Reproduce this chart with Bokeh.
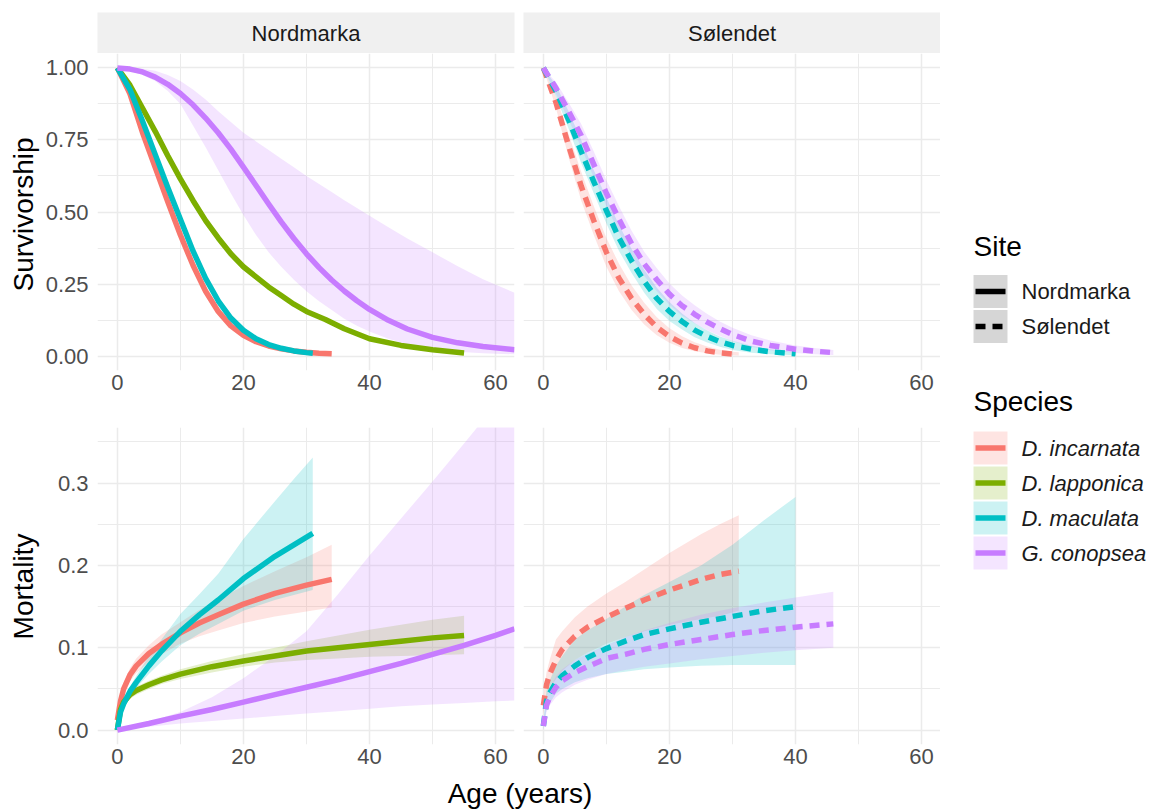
import math
from bokeh.plotting import figure
from bokeh.layouts import row, column
from bokeh.models import Range1d, FixedTicker, Grid, NumeralTickFormatter
from bokeh.embed import file_html
from bokeh.resources import INLINE
from bokeh.core.properties import value

# ---------------- data ----------------
sites = ["Nordmarka", "Sølendet"]
species = ["D. incarnata", "D. lapponica", "D. maculata", "G. conopsea"]
species_colors = ["#F8766D", "#7CAE00", "#00BFC4", "#C77CFF"]
site_dash = ["solid", "10 7"]
row_titles = ["Survivorship", "Mortality"]
x_title = "Age (years)"

x_ticks = [0, 20, 40, 60]
x_minor = [10, 30, 50]
surv_ticks = [0, 0.25, 0.5, 0.75, 1.0]
surv_minor = [0.125, 0.375, 0.625, 0.875]
mort_ticks = [0, 0.1, 0.2, 0.3]
mort_minor = [0.05, 0.15, 0.25, 0.35]

# Survivorship - Nordmarka
sN_inc_age = [0, 2, 4, 6, 8, 10, 12, 14, 16, 18, 20, 22, 24, 26, 28, 30, 32, 34]
sN_inc_mean = [1.0, 0.91, 0.775, 0.655, 0.535, 0.42, 0.315, 0.225, 0.155, 0.105, 0.072, 0.05, 0.035, 0.025, 0.018, 0.013, 0.01, 0.008]
sN_inc_lo = [1.0, 0.9, 0.755, 0.635, 0.515, 0.4, 0.297, 0.209, 0.141, 0.093, 0.062, 0.042, 0.028, 0.019, 0.013, 0.009, 0.006, 0.005]
sN_inc_hi = [1.0, 0.92, 0.795, 0.675, 0.555, 0.44, 0.333, 0.241, 0.169, 0.117, 0.082, 0.058, 0.042, 0.031, 0.023, 0.017, 0.014, 0.011]

sN_lap_age = [0, 2, 4, 6, 8, 10, 12, 14, 16, 18, 20, 22, 24, 26, 28, 30, 33, 36, 40, 45, 50, 55]
sN_lap_mean = [1.0, 0.94, 0.86, 0.78, 0.695, 0.615, 0.54, 0.47, 0.41, 0.355, 0.31, 0.275, 0.24, 0.21, 0.18, 0.155, 0.127, 0.095, 0.06, 0.037, 0.022, 0.011]
sN_lap_lo = [1.0, 0.932, 0.848, 0.766, 0.68, 0.6, 0.525, 0.455, 0.396, 0.342, 0.298, 0.264, 0.23, 0.201, 0.172, 0.148, 0.12, 0.089, 0.055, 0.033, 0.019, 0.008]
sN_lap_hi = [1.0, 0.948, 0.872, 0.794, 0.71, 0.63, 0.555, 0.485, 0.424, 0.368, 0.322, 0.286, 0.25, 0.219, 0.188, 0.162, 0.134, 0.101, 0.065, 0.041, 0.025, 0.014]

sN_mac_age = [0, 2, 4, 6, 8, 10, 12, 14, 16, 18, 20, 22, 24, 26, 28, 30, 31]
sN_mac_mean = [1.0, 0.925, 0.815, 0.7, 0.585, 0.475, 0.365, 0.27, 0.192, 0.132, 0.09, 0.06, 0.04, 0.027, 0.018, 0.012, 0.01]
sN_mac_lo = [1.0, 0.915, 0.8, 0.685, 0.568, 0.458, 0.348, 0.254, 0.178, 0.12, 0.08, 0.052, 0.034, 0.022, 0.014, 0.009, 0.007]
sN_mac_hi = [1.0, 0.935, 0.83, 0.715, 0.602, 0.492, 0.382, 0.286, 0.206, 0.144, 0.1, 0.068, 0.046, 0.032, 0.022, 0.015, 0.013]

sN_con_age = [0, 2, 4, 6, 8, 10, 12, 14, 16, 18, 20, 22, 24, 26, 28, 30, 32, 34, 36, 38, 40, 43, 46, 50, 54, 58, 63]
sN_con_mean = [1.0, 0.996, 0.986, 0.968, 0.943, 0.911, 0.872, 0.826, 0.775, 0.718, 0.656, 0.592, 0.528, 0.466, 0.408, 0.355, 0.307, 0.264, 0.226, 0.192, 0.162, 0.124, 0.094, 0.065, 0.046, 0.033, 0.022]
sN_con_lo = [1.0, 0.99, 0.975, 0.955, 0.92, 0.875, 0.8, 0.725, 0.645, 0.565, 0.49, 0.42, 0.36, 0.31, 0.265, 0.225, 0.19, 0.16, 0.13, 0.105, 0.085, 0.06, 0.04, 0.025, 0.015, 0.01, 0.006]
sN_con_hi = [1.0, 0.999, 0.997, 0.99, 0.975, 0.955, 0.925, 0.89, 0.85, 0.812, 0.775, 0.745, 0.715, 0.685, 0.655, 0.625, 0.597, 0.569, 0.541, 0.514, 0.487, 0.447, 0.408, 0.36, 0.312, 0.267, 0.22]

# Survivorship - Sølendet
sS_inc_age = [0, 2, 4, 6, 8, 10, 12, 14, 16, 18, 20, 22, 24, 26, 28, 30, 31]
sS_inc_mean = [1.0, 0.88, 0.73, 0.59, 0.47, 0.36, 0.27, 0.2, 0.145, 0.1, 0.068, 0.045, 0.029, 0.018, 0.011, 0.007, 0.006]
sS_inc_lo = [1.0, 0.86, 0.69, 0.54, 0.42, 0.31, 0.225, 0.16, 0.11, 0.072, 0.046, 0.028, 0.017, 0.01, 0.005, 0.003, 0.002]
sS_inc_hi = [1.0, 0.9, 0.77, 0.64, 0.52, 0.41, 0.32, 0.245, 0.185, 0.135, 0.097, 0.069, 0.048, 0.033, 0.022, 0.015, 0.013]

sS_mac_age = [0, 2, 4, 6, 8, 10, 12, 14, 16, 18, 20, 22, 24, 26, 28, 30, 33, 36, 40]
sS_mac_mean = [1.0, 0.92, 0.82, 0.71, 0.605, 0.505, 0.41, 0.33, 0.26, 0.2, 0.155, 0.12, 0.09, 0.068, 0.05, 0.037, 0.024, 0.015, 0.008]
sS_mac_lo = [1.0, 0.9, 0.79, 0.67, 0.565, 0.46, 0.365, 0.288, 0.22, 0.163, 0.122, 0.092, 0.065, 0.047, 0.032, 0.021, 0.012, 0.006, 0.003]
sS_mac_hi = [1.0, 0.94, 0.85, 0.75, 0.645, 0.55, 0.455, 0.372, 0.3, 0.237, 0.188, 0.148, 0.115, 0.089, 0.068, 0.053, 0.036, 0.024, 0.014]

sS_con_age = [0, 2, 4, 6, 8, 10, 12, 14, 16, 18, 20, 22, 24, 26, 28, 30, 33, 36, 40, 43, 46]
sS_con_mean = [1.0, 0.93, 0.85, 0.765, 0.665, 0.565, 0.475, 0.39, 0.32, 0.265, 0.215, 0.175, 0.145, 0.118, 0.095, 0.075, 0.052, 0.037, 0.024, 0.017, 0.012]
sS_con_lo = [1.0, 0.91, 0.82, 0.725, 0.62, 0.52, 0.43, 0.345, 0.278, 0.225, 0.178, 0.14, 0.114, 0.09, 0.07, 0.052, 0.032, 0.02, 0.011, 0.006, 0.004]
sS_con_hi = [1.0, 0.95, 0.88, 0.805, 0.71, 0.61, 0.52, 0.435, 0.362, 0.305, 0.252, 0.21, 0.176, 0.146, 0.12, 0.098, 0.072, 0.054, 0.037, 0.028, 0.021]

# Mortality - Nordmarka
mN_inc_age = [0, 0.5, 1, 2, 3, 5, 7, 10, 13, 16, 20, 25, 30, 34]
mN_inc_mean = [0.012, 0.035, 0.05, 0.067, 0.078, 0.093, 0.104, 0.118, 0.13, 0.14, 0.153, 0.166, 0.176, 0.183]
mN_inc_lo = [0.008, 0.028, 0.042, 0.059, 0.069, 0.083, 0.092, 0.105, 0.114, 0.121, 0.13, 0.138, 0.144, 0.149]
mN_inc_hi = [0.016, 0.042, 0.058, 0.075, 0.087, 0.103, 0.116, 0.131, 0.146, 0.159, 0.175, 0.193, 0.21, 0.225]

mN_lap_age = [0, 0.5, 1, 2, 3, 5, 7, 10, 15, 20, 25, 30, 35, 40, 45, 50, 55]
mN_lap_mean = [0.0, 0.025, 0.034, 0.043, 0.048, 0.055, 0.061, 0.068, 0.077, 0.084, 0.09, 0.096, 0.1, 0.104, 0.108, 0.112, 0.115]
mN_lap_lo = [0.0, 0.021, 0.029, 0.038, 0.043, 0.05, 0.056, 0.062, 0.07, 0.077, 0.082, 0.085, 0.087, 0.089, 0.09, 0.091, 0.092]
mN_lap_hi = [0.0, 0.029, 0.039, 0.048, 0.053, 0.06, 0.066, 0.074, 0.084, 0.092, 0.1, 0.108, 0.115, 0.122, 0.128, 0.134, 0.139]

mN_mac_age = [0, 0.5, 1, 2, 3, 5, 7, 10, 13, 16, 20, 25, 28, 31]
mN_mac_mean = [0.0, 0.022, 0.032, 0.047, 0.058, 0.078, 0.096, 0.12, 0.14, 0.158, 0.184, 0.211, 0.225, 0.239]
mN_mac_lo = [0.0, 0.018, 0.027, 0.041, 0.051, 0.068, 0.083, 0.103, 0.117, 0.129, 0.145, 0.158, 0.164, 0.17]
mN_mac_hi = [0.0, 0.026, 0.037, 0.053, 0.066, 0.09, 0.11, 0.141, 0.165, 0.19, 0.232, 0.278, 0.305, 0.331]

mN_con_age = [0, 5, 10, 15, 20, 25, 30, 35, 40, 45, 50, 55, 60, 63]
mN_con_mean = [0.0, 0.008, 0.017, 0.025, 0.034, 0.043, 0.052, 0.061, 0.071, 0.081, 0.092, 0.103, 0.115, 0.123]
mN_con_lo = [0.0, 0.004, 0.008, 0.011, 0.014, 0.017, 0.02, 0.023, 0.026, 0.029, 0.031, 0.033, 0.035, 0.036]
mN_con_hi = [0.0, 0.01, 0.022, 0.04, 0.063, 0.09, 0.12, 0.165, 0.212, 0.257, 0.302, 0.348, 0.395, 0.423]

# Mortality - Sølendet
mS_inc_age = [0, 0.5, 1, 2, 3, 5, 7, 10, 13, 16, 20, 25, 28, 31]
mS_inc_mean = [0.03, 0.055, 0.068, 0.085, 0.098, 0.114, 0.125, 0.137, 0.148, 0.158, 0.17, 0.183, 0.189, 0.193]
mS_inc_lo = [0.02, 0.04, 0.05, 0.062, 0.072, 0.085, 0.094, 0.105, 0.113, 0.12, 0.128, 0.135, 0.139, 0.145]
mS_inc_hi = [0.04, 0.07, 0.085, 0.11, 0.12, 0.137, 0.15, 0.166, 0.18, 0.195, 0.215, 0.238, 0.25, 0.261]

mS_mac_age = [0, 0.5, 1, 2, 3, 5, 7, 10, 13, 16, 20, 25, 30, 35, 40]
mS_mac_mean = [0.005, 0.035, 0.045, 0.058, 0.066, 0.078, 0.088, 0.099, 0.108, 0.116, 0.123, 0.131, 0.138, 0.145, 0.15]
mS_mac_lo = [0.0, 0.025, 0.033, 0.044, 0.05, 0.058, 0.063, 0.068, 0.071, 0.074, 0.076, 0.078, 0.079, 0.079, 0.079]
mS_mac_hi = [0.01, 0.048, 0.06, 0.078, 0.09, 0.11, 0.121, 0.135, 0.15, 0.164, 0.18, 0.2, 0.225, 0.255, 0.283]

mS_con_age = [0, 0.5, 1, 2, 3, 5, 7, 10, 13, 16, 20, 25, 30, 35, 40, 46]
mS_con_mean = [0.005, 0.03, 0.04, 0.052, 0.06, 0.07, 0.077, 0.087, 0.092, 0.098, 0.104, 0.11, 0.116, 0.121, 0.125, 0.129]
mS_con_lo = [0.0, 0.022, 0.03, 0.04, 0.046, 0.055, 0.061, 0.068, 0.073, 0.077, 0.081, 0.086, 0.09, 0.094, 0.097, 0.1]
mS_con_hi = [0.01, 0.04, 0.05, 0.065, 0.074, 0.085, 0.093, 0.103, 0.113, 0.121, 0.13, 0.14, 0.148, 0.155, 0.161, 0.168]

# ---------------- structure ----------------
# (species index, ages, mean, lower, upper)
panels = {
    (0, 0): [(0, sN_inc_age, sN_inc_mean, sN_inc_lo, sN_inc_hi),
             (1, sN_lap_age, sN_lap_mean, sN_lap_lo, sN_lap_hi),
             (2, sN_mac_age, sN_mac_mean, sN_mac_lo, sN_mac_hi),
             (3, sN_con_age, sN_con_mean, sN_con_lo, sN_con_hi)],
    (0, 1): [(0, sS_inc_age, sS_inc_mean, sS_inc_lo, sS_inc_hi),
             (2, sS_mac_age, sS_mac_mean, sS_mac_lo, sS_mac_hi),
             (3, sS_con_age, sS_con_mean, sS_con_lo, sS_con_hi)],
    (1, 0): [(0, mN_inc_age, mN_inc_mean, mN_inc_lo, mN_inc_hi),
             (1, mN_lap_age, mN_lap_mean, mN_lap_lo, mN_lap_hi),
             (2, mN_mac_age, mN_mac_mean, mN_mac_lo, mN_mac_hi),
             (3, mN_con_age, mN_con_mean, mN_con_lo, mN_con_hi)],
    (1, 1): [(0, mS_inc_age, mS_inc_mean, mS_inc_lo, mS_inc_hi),
             (2, mS_mac_age, mS_mac_mean, mS_mac_lo, mS_mac_hi),
             (3, mS_con_age, mS_con_mean, mS_con_lo, mS_con_hi)],
}

FONT = "Liberation Sans"
SMALL = "22px"
BIG = "28px"
TICK_COLOR = "#4d4d4d"
GRID_COLOR = "#ebebeb"
LW = 5.5

X_RANGE = (-3.15, 63.0)
Y_RANGES = [(-0.05, 1.05), (-0.0175, 0.3675)]
Y_TICKS = [(surv_ticks, surv_minor, "0.00"), (mort_ticks, mort_minor, "0.0")]

LEFT_W, RIGHT_W = 478, 422
TOP_H, BOT_H, STRIP_H, XLAB_H = 359, 364, 53, 35
YLAB_W, LEG_W = 40, 211


def blank(width, height, xr, yr, **kw):
    p = figure(width=width, height=height, x_range=Range1d(*xr), y_range=Range1d(*yr),
               x_axis_location=None, y_axis_location=None, toolbar_location=None,
               output_backend="svg", min_border_left=kw.get("l", 0), min_border_right=kw.get("r", 0),
               min_border_top=kw.get("t", 0), min_border_bottom=kw.get("b", 0))
    p.outline_line_color = None
    p.grid.visible = False
    p.background_fill_color = kw.get("bg", "white")
    p.border_fill_color = "white"
    return p


def panel(r, c):
    width = LEFT_W if c == 0 else RIGHT_W
    height = TOP_H if r == 0 else BOT_H
    p = figure(width=width, height=height, x_range=Range1d(*X_RANGE), y_range=Range1d(*Y_RANGES[r]),
               toolbar_location=None, output_backend="svg",
               x_axis_location="below", y_axis_location="left" if c == 0 else None,
               min_border_left=57 if c == 0 else 5, min_border_right=4 if c == 0 else 0,
               min_border_top=0 if r == 0 else 15, min_border_bottom=42 if r == 0 else 32)
    p.outline_line_color = None
    p.background_fill_color = "white"
    p.border_fill_color = "white"
    p.grid.visible = False
    yt, ym, fmt = Y_TICKS[r]
    p.add_layout(Grid(dimension=0, ticker=FixedTicker(ticks=x_ticks, minor_ticks=x_minor),
                      grid_line_color=GRID_COLOR, grid_line_width=1.5,
                      minor_grid_line_color=GRID_COLOR, minor_grid_line_width=1.0))
    p.add_layout(Grid(dimension=1, ticker=FixedTicker(ticks=yt, minor_ticks=ym),
                      grid_line_color=GRID_COLOR, grid_line_width=1.5,
                      minor_grid_line_color=GRID_COLOR, minor_grid_line_width=1.0))
    axes = list(p.xaxis) + (list(p.yaxis) if c == 0 else [])
    for ax in axes:
        ax.axis_line_color = None
        ax.major_tick_line_color = None
        ax.minor_tick_line_color = None
        ax.major_tick_out = 0
        ax.major_tick_in = 0
        ax.minor_tick_out = 0
        ax.minor_tick_in = 0
        ax.major_label_text_font = FONT
        ax.major_label_text_font_size = SMALL
        ax.major_label_text_color = TICK_COLOR
    p.xaxis.ticker = FixedTicker(ticks=x_ticks)
    p.xaxis.major_label_standoff = 4
    if c == 0:
        p.yaxis.ticker = FixedTicker(ticks=yt)
        p.yaxis.formatter = NumeralTickFormatter(format=fmt)
        p.yaxis.major_label_standoff = 9

    series = panels[(r, c)]
    for si, ages, mean, lo, hi in series:
        p.varea(x=ages, y1=lo, y2=hi, fill_color=species_colors[si], fill_alpha=0.2)
    for si, ages, mean, lo, hi in series:
        p.line(x=ages, y=mean, line_color=species_colors[si], line_width=LW,
               line_dash=site_dash[c], line_join="round")
    return p


# strips
strips = []
for c, site in enumerate(sites):
    w = LEFT_W if c == 0 else RIGHT_W
    s = blank(w, STRIP_H, (0, 1), (0, 1), l=57 if c == 0 else 5, r=4 if c == 0 else 0, t=12, b=0, bg="#f0f0f0")
    s.text(x=[0.5], y=[0.5], text=[site], text_align="center", text_baseline="middle",
           text_font=value(FONT), text_font_size=SMALL, text_color="#1a1a1a")
    strips.append(s)

grid_figs = {(r, c): panel(r, c) for r in range(2) for c in range(2)}

left_col = column(strips[0], grid_figs[(0, 0)], grid_figs[(1, 0)])
right_col = column(strips[1], grid_figs[(0, 1)], grid_figs[(1, 1)])

# x title strip (page coords 40..940, 776..811)
xlab = blank(LEFT_W + RIGHT_W, XLAB_H, (40, 940), (811, 776))
xlab.text(x=[519.5], y=[793], text=[x_title], text_align="center", text_baseline="middle",
          text_font=value(FONT), text_font_size=BIG, text_color="black")

# y titles (page coords 0..40, 0..811)
ylab = blank(YLAB_W, 811, (0, 40), (811, 0))
ylab.text(x=[23, 23], y=[214, 586], text=row_titles, angle=[math.pi / 2] * 2,
          text_align="center", text_baseline="middle",
          text_font=value(FONT), text_font_size=BIG, text_color="black")

# legend (page coords 940..1151, 0..811)
leg = blank(LEG_W, 811, (940, 1151), (811, 0))
site_y = [291, 326]
spec_y = [447.5, 482.5, 517.5, 552.5]
half = 16.5
leg.text(x=[973], y=[246], text=["Site"], text_baseline="middle", text_align="left",
         text_font=value(FONT), text_font_size=BIG, text_color="black")
leg.text(x=[973], y=[401], text=["Species"], text_baseline="middle", text_align="left",
         text_font=value(FONT), text_font_size=BIG, text_color="black")
for i, site in enumerate(sites):
    yc = site_y[i]
    leg.quad(left=[973], right=[1007], top=[yc - half], bottom=[yc + half],
             fill_color="#333333", fill_alpha=0.2, line_color=None)
    leg.line(x=[975, 1005], y=[yc, yc], line_color="black", line_width=LW, line_dash=site_dash[i])
    leg.text(x=[1021], y=[yc], text=[site], text_baseline="middle", text_align="left",
             text_font=value(FONT), text_font_size=SMALL, text_color="#1a1a1a")
for i, sp in enumerate(species):
    yc = spec_y[i]
    leg.quad(left=[973], right=[1007], top=[yc - half], bottom=[yc + half],
             fill_color=species_colors[i], fill_alpha=0.2, line_color=None)
    leg.line(x=[975, 1005], y=[yc, yc], line_color=species_colors[i], line_width=LW)
    leg.text(x=[1021], y=[yc], text=[sp], text_baseline="middle", text_align="left",
             text_font=value(FONT), text_font_size=SMALL, text_font_style="italic", text_color="#1a1a1a")

layout = row(ylab, column(row(left_col, right_col), xlab), leg)

open("out.html", "w").write(file_html(layout, INLINE))
